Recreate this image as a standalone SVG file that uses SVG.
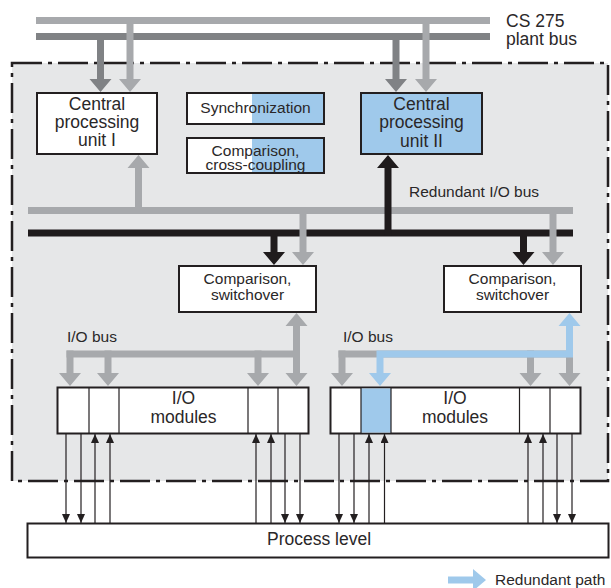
<svg xmlns="http://www.w3.org/2000/svg" width="611" height="588" viewBox="0 0 611 588">
  <style>
    text { font-family: "Liberation Sans", Arial, sans-serif; fill: #2a2728; }
    .t18 { font-size: 17.5px; }
    .t16 { font-size: 15.5px; }
    .mid { text-anchor: middle; }
    .box { fill: #ffffff; stroke: #231f20; stroke-width: 2; }
    .boxb { fill: #9fc9eb; stroke: #231f20; stroke-width: 2; }
    .frame { fill: none; stroke: #231f20; stroke-width: 2; }
    .div { stroke: #231f20; stroke-width: 1.2; }
    .lg { fill: #a7a9ac; }
    .dg { fill: #808285; }
    .bk { fill: #1f1b1c; }
    .bl { fill: #9fc9eb; }
    .sig { stroke: #231f20; stroke-width: 1.2; fill: none; marker-end: url(#tip); }
  </style>
  <defs>
    <marker id="tip" viewBox="0 0 9 8" refX="9" refY="4" markerWidth="9" markerHeight="8" markerUnits="userSpaceOnUse" orient="auto">
      <path d="M0,0 L9,4 L0,8 z" fill="#231f20"/>
    </marker>
  </defs>

  <!-- system enclosure (dash-dot outline) -->
  <rect id="enclosure" x="12" y="63" width="596" height="418" fill="#e6e7e8" stroke="#231f20" stroke-width="2.5" stroke-dasharray="30 6 4 6"/>

  <g id="connectors">
    <!-- CS 275 plant bus -->
    <rect class="lg" x="36" y="17" width="454" height="7"/>
    <rect class="dg" x="36" y="33" width="454" height="7"/>
    <!-- plant bus drops to the CPUs -->
    <polygon class="dg" points="97,33 104,33 104,79 111.5,79 100.5,92 89.5,79 97,79"/>
    <polygon class="lg" points="126.5,17 133.5,17 133.5,79 141,79 130,92 119,79 126.5,79"/>
    <polygon class="dg" points="392.5,33 399.5,33 399.5,79 407,79 396,92 385,79 392.5,79"/>
    <polygon class="lg" points="422.5,17 429.5,17 429.5,79 437,79 426,92 415,79 422.5,79"/>

    <!-- redundant I/O bus -->
    <rect class="lg" x="28" y="207" width="545" height="7"/>
    <rect class="bk" x="28" y="229.5" width="545" height="7"/>
    <polygon class="lg" points="135,213 142,213 142,168 149.5,168 138.5,155 127.5,168 135,168"/>
    <polygon class="bk" points="384.5,236 391.5,236 391.5,168 399,168 388,155 377,168 384.5,168"/>
    <!-- drops to the switchover units -->
    <polygon class="bk" points="270.5,233 277.5,233 277.5,252 285,252 274,265 263,252 270.5,252"/>
    <polygon class="lg" points="299.5,210 306.5,210 306.5,252 314,252 303,265 292,252 299.5,252"/>
    <polygon class="bk" points="520,233 527,233 527,252 534.5,252 523.5,265 512.5,252 520,252"/>
    <polygon class="lg" points="549.5,210 556.5,210 556.5,252 564,252 553,265 542,252 549.5,252"/>

    <!-- left I/O bus -->
    <rect class="lg" x="66.5" y="350.5" width="233.5" height="7"/>
    <polygon class="lg" points="66.5,350.5 73.5,350.5 73.5,373 81,373 70,386 59,373 66.5,373"/>
    <polygon class="lg" points="104.5,350.5 111.5,350.5 111.5,373 119,373 108,386 97,373 104.5,373"/>
    <polygon class="lg" points="254.5,350.5 261.5,350.5 261.5,373 269,373 258,386 247,373 254.5,373"/>
    <polygon class="lg" points="296.5,313 307.5,326 300,326 300,373 307.5,373 296.5,386 285.5,373 293,373 293,326 285.5,326"/>

    <!-- right I/O bus -->
    <rect class="lg" x="338.5" y="350.5" width="234.5" height="7"/>
    <polygon class="lg" points="338.5,350.5 345.5,350.5 345.5,373 353,373 342,386 331,373 338.5,373"/>
    <polygon class="lg" points="527,350.5 534,350.5 534,373 541.5,373 530.5,386 519.5,373 527,373"/>
    <polygon class="lg" points="566,350.5 573,350.5 573,373 580.5,373 569.5,386 558.5,373 566,373"/>
    <!-- redundant path -->
    <polygon class="bl" points="569.5,313 580.5,326 573,326 573,357.5 383.5,357.5 383.5,373 391,373 380,386 369,373 376.5,373 376.5,350.5 566,350.5 566,326 558.5,326"/>

    <!-- signals between I/O modules and process level -->
    <line class="sig" x1="66" y1="434" x2="66" y2="523"/>
    <line class="sig" x1="81" y1="434" x2="81" y2="523"/>
    <line class="sig" x1="95" y1="523" x2="95" y2="434"/>
    <line class="sig" x1="110" y1="523" x2="110" y2="434"/>
    <line class="sig" x1="256" y1="523" x2="256" y2="434"/>
    <line class="sig" x1="271" y1="523" x2="271" y2="434"/>
    <line class="sig" x1="285" y1="434" x2="285" y2="523"/>
    <line class="sig" x1="300" y1="434" x2="300" y2="523"/>
    <line class="sig" x1="339" y1="434" x2="339" y2="523"/>
    <line class="sig" x1="354" y1="434" x2="354" y2="523"/>
    <line class="sig" x1="369" y1="523" x2="369" y2="434"/>
    <line class="sig" x1="384.5" y1="523" x2="384.5" y2="434"/>
    <line class="sig" x1="528" y1="523" x2="528" y2="434"/>
    <line class="sig" x1="543" y1="523" x2="543" y2="434"/>
    <line class="sig" x1="557" y1="434" x2="557" y2="523"/>
    <line class="sig" x1="572" y1="434" x2="572" y2="523"/>
  </g>

  <g id="plant-bus-label">
    <text class="t18" x="506" y="27">CS 275</text>
    <text class="t18" x="506" y="44.5">plant bus</text>
  </g>

  <g id="cpu1">
    <rect class="box" x="37" y="93" width="120" height="61"/>
    <text class="t18 mid" x="97" y="110">Central</text>
    <text class="t18 mid" x="97" y="128">processing</text>
    <text class="t18 mid" x="97" y="146">unit I</text>
  </g>

  <g id="sync">
    <rect class="box" x="187" y="93" width="137" height="31"/>
    <rect class="bl" x="252" y="94" width="71" height="29"/>
    <rect class="frame" x="187" y="93" width="137" height="31"/>
    <text class="t16 mid" x="255.5" y="113">Synchronization</text>
  </g>

  <g id="cross-coupling">
    <rect class="box" x="187" y="138" width="137" height="35"/>
    <rect class="bl" x="252" y="139" width="71" height="33"/>
    <rect class="frame" x="187" y="138" width="137" height="35"/>
    <text class="t16 mid" x="255.5" y="155.5">Comparison,</text>
    <text class="t16 mid" x="255.5" y="169.5">cross-coupling</text>
  </g>

  <g id="cpu2">
    <rect class="boxb" x="361" y="93" width="121" height="61"/>
    <text class="t18 mid" x="421.5" y="110">Central</text>
    <text class="t18 mid" x="421.5" y="128">processing</text>
    <text class="t18 mid" x="421.5" y="146.5">unit II</text>
  </g>

  <g id="bus-label">
    <text class="t16" x="409" y="197">Redundant I/O bus</text>
  </g>

  <g id="switchover1">
    <rect class="box" x="179" y="266" width="137" height="46"/>
    <text class="t16 mid" x="247.5" y="284">Comparison,</text>
    <text class="t16 mid" x="247.5" y="300">switchover</text>
  </g>

  <g id="switchover2">
    <rect class="box" x="444" y="266" width="137" height="46"/>
    <text class="t16 mid" x="512.5" y="284">Comparison,</text>
    <text class="t16 mid" x="512.5" y="300">switchover</text>
  </g>

  <g id="io-bus-labels">
    <text class="t16" x="67" y="342">I/O bus</text>
    <text class="t16" x="343" y="342">I/O bus</text>
  </g>

  <g id="io1">
    <rect class="box" x="57.5" y="387.5" width="251" height="46"/>
    <line class="div" x1="89" y1="388" x2="89" y2="433"/>
    <line class="div" x1="119" y1="388" x2="119" y2="433"/>
    <line class="div" x1="248" y1="388" x2="248" y2="433"/>
    <line class="div" x1="278" y1="388" x2="278" y2="433"/>
    <text class="t18 mid" x="183.5" y="404">I/O</text>
    <text class="t18 mid" x="183.5" y="423">modules</text>
  </g>

  <g id="io2">
    <rect class="box" x="330.5" y="387.5" width="250" height="46"/>
    <rect class="bl" x="361" y="388.5" width="30" height="44"/>
    <line class="div" x1="361" y1="388" x2="361" y2="433"/>
    <line class="div" x1="391" y1="388" x2="391" y2="433"/>
    <line class="div" x1="519.5" y1="388" x2="519.5" y2="433"/>
    <line class="div" x1="550" y1="388" x2="550" y2="433"/>
    <text class="t18 mid" x="455" y="404">I/O</text>
    <text class="t18 mid" x="455" y="423">modules</text>
  </g>

  <g id="process-level">
    <rect class="box" x="27.5" y="523.5" width="581" height="34"/>
    <text class="t18 mid" x="319" y="545">Process level</text>
  </g>

  <g id="legend">
    <polygon class="bl" points="448,576.5 473,576.5 473,569 486,580 473,591 473,583.5 448,583.5"/>
    <text class="t16" x="495" y="585">Redundant path</text>
  </g>
</svg>
